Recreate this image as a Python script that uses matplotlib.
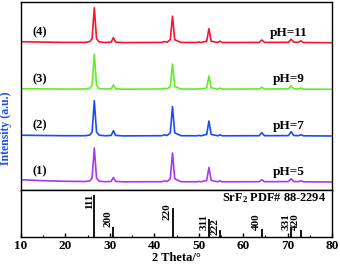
import matplotlib
matplotlib.use("Agg")
import matplotlib.pyplot as plt
from matplotlib.ticker import MultipleLocator

plt.rcParams['font.family'] = ['Liberation Serif', 'DejaVu Serif']
plt.rcParams['font.weight'] = 'bold'
plt.rcParams['mathtext.fontset'] = 'custom'
plt.rcParams['mathtext.rm'] = 'Liberation Serif:bold'
plt.rcParams['mathtext.it'] = 'Liberation Serif:bold'
plt.rcParams['mathtext.bf'] = 'Liberation Serif:bold'

# key 2-theta points (deg) at which the patterns were read
two_theta = [10, 15, 20, 24.5, 25.5, 26.0, 26.5, 27.0, 27.6, 29.0, 30.3, 30.8, 31.3, 33,
             41.7, 42.3, 42.9, 43.6, 44.1, 44.6, 46, 49.5, 50.0, 50.5, 51.8, 52.3, 52.8,
             54.3, 54.8, 55.3, 63.6, 64.2, 64.8, 70.2, 70.8, 71.4, 72.4, 73.0, 73.6, 80]

# heights above each pattern's own baseline (arbitrary units)
int_ph11 = [1.0, 0.6, 0.3, 0.3, 1.2, 4.0, 35.0, 4.0, 0.8, 0.2, 0.6, 5.0, 0.6, 0.1,
            0.3, 1.2, 0.5, 3.0, 26.5, 3.0, 0.3, 0.2, 0.7, 0.2, 1.5, 14.0, 1.5,
            0.2, 1.5, 0.2, 0.3, 2.7, 0.3, 0.4, 3.5, 0.5, 0.4, 1.8, 0.2, 0.0]
int_ph9 = [0.6, 0.4, 0.2, 0.3, 1.2, 4.0, 35.0, 4.0, 0.7, 0.2, 0.5, 4.3, 0.5, 0.1,
           0.3, 1.0, 0.4, 2.8, 25.3, 2.8, 0.3, 0.2, 0.6, 0.2, 1.4, 13.3, 1.4,
           0.2, 1.2, 0.2, 0.3, 2.0, 0.3, 0.4, 3.3, 0.5, 0.3, 1.3, 0.2, 0.0]
int_ph7 = [0.8, 0.5, 0.3, 0.3, 1.0, 4.0, 35.3, 4.0, 0.8, 0.2, 0.6, 5.3, 0.6, 0.1,
           0.3, 1.2, 0.5, 3.2, 29.3, 3.2, 0.3, 0.2, 0.6, 0.2, 1.6, 15.0, 1.6,
           0.2, 1.2, 0.2, 0.3, 3.3, 0.3, 0.4, 4.3, 0.5, 0.3, 1.2, 0.2, 0.0]
int_ph5 = [2.3, 1.3, 0.7, 0.5, 1.2, 4.0, 34.0, 4.0, 0.8, 0.3, 0.6, 4.6, 0.6, 0.2,
           0.3, 1.2, 0.5, 3.2, 29.0, 3.2, 0.3, 0.2, 0.6, 0.2, 1.6, 14.6, 1.6,
           0.2, 1.2, 0.2, 0.3, 2.3, 0.3, 0.4, 3.3, 0.5, 0.3, 1.2, 0.2, 0.0]

series = [int_ph11, int_ph9, int_ph7, int_ph5]
series_labels = ['(4)', '(3)', '(2)', '(1)']
ph_labels = ['pH=11', 'pH=9', 'pH=7', 'pH=5']
colors = ['#ff1030', '#5ef020', '#1a4cf5', '#a838f0']
offsets = [147.3, 100.7, 54.0, 8.0]

# reference SrF2 PDF# 88-2294
ref_pos = [26.5, 30.8, 44.1, 52.3, 54.8, 64.2, 70.8, 73.0]
ref_int = [41.7, 10.0, 29.3, 18.0, 6.7, 8.0, 9.0, 6.7]
ref_hkl = ['111', '200', '220', '311', '222', '400', '331', '420']
ref_lab_y = [28.3, 10.0, 16.7, 6.7, 1.7, 6.7, 6.7, 6.7]

fig = plt.figure(figsize=(3.4, 2.69), dpi=100)
W, H = 340, 269
x0, x1 = 21, 332
ax = fig.add_axes([x0 / W, 1 - 190 / H, (x1 - x0) / W, 188 / H])
axr = fig.add_axes([x0 / W, 1 - 237 / H, (x1 - x0) / W, 47 / H], sharex=ax)

for ys, off, c, sl, pl in zip(series, offsets, colors, series_labels, ph_labels):
    ax.plot(two_theta, [v + off for v in ys], color=c, lw=1.2)
    ax.text(14.2, off + 10.5, sl, fontsize=9, fontweight='bold', ha='center', va='center')
    ax.text(70.2, off + 10.0, pl, fontsize=9.5, fontweight='bold', ha='center', va='center')

ax.set_xlim(10, 80)
ax.set_ylim(0, 188)
ax.set_yticks([])
ax.tick_params(axis='x', which='both', bottom=False, labelbottom=False)
for s in ax.spines.values():
    s.set_linewidth(1.0)

axr.vlines(ref_pos, 0, ref_int, color='black', lw=1.3)
for p, h, lab, ly in zip(ref_pos, ref_int, ref_hkl, ref_lab_y):
    axr.text(p - 0.15, ly, lab, rotation=90, fontsize=8, fontweight='bold',
             ha='right', va='bottom')
axr.text(78.6, 39.0, 'SrF$_2$ PDF# 88-2294', fontsize=8.9, fontweight='bold',
         ha='right', va='center')
axr.set_ylim(0, 47)
axr.set_yticks([])
axr.xaxis.set_major_locator(MultipleLocator(10))
axr.xaxis.set_minor_locator(MultipleLocator(5))
axr.tick_params(axis='x', which='major', direction='in', length=3, width=1, labelsize=9.5, pad=2)
axr.tick_params(axis='x', which='minor', direction='in', length=1.5, width=0.8)
for t in axr.get_xticklabels():
    t.set_fontweight('bold')
axr.set_xlabel('2 Theta/°', fontsize=9, fontweight='bold', labelpad=0)
for s in axr.spines.values():
    s.set_linewidth(1.0)

fig.text(6 / W, 1 - 128 / H, 'Intensity (a.u.)', rotation=90, fontsize=8.5,
         fontweight='bold', color='#2050e0', ha='center', va='center')

fig.savefig('out.png', dpi=100)
